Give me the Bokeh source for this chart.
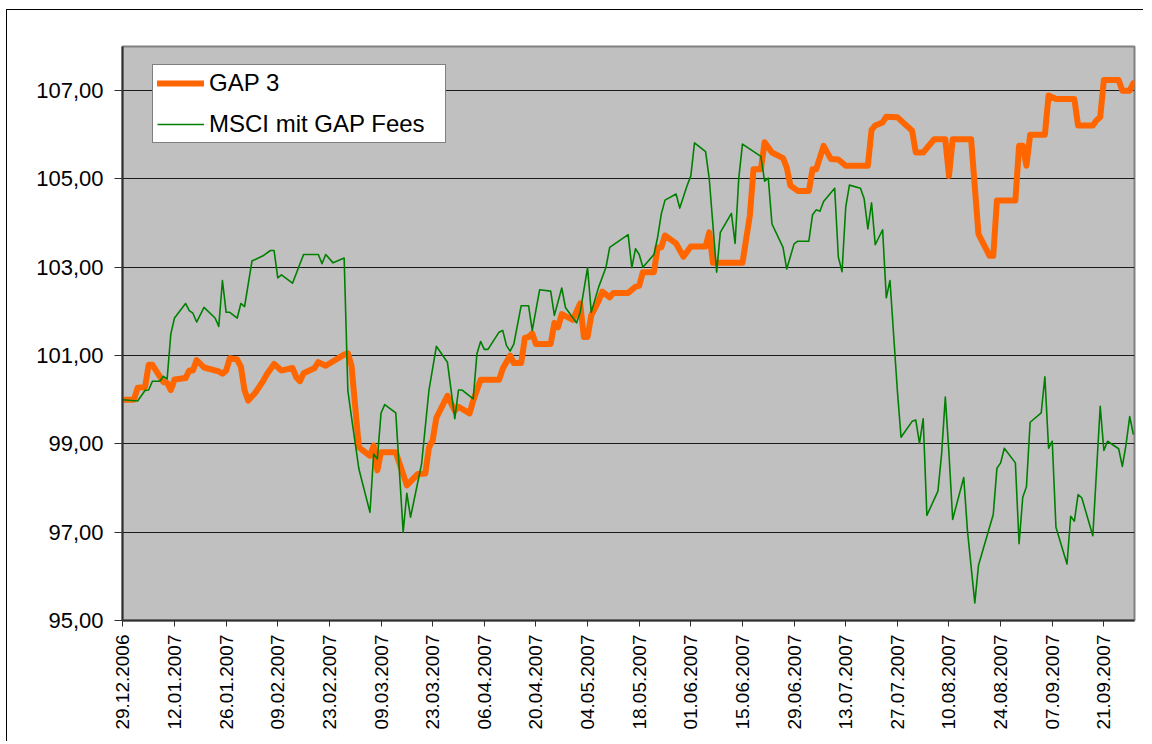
import pandas as pd
from bokeh.plotting import figure
from bokeh.models import (FixedTicker, DatetimeTickFormatter, Range1d, Legend,
                          LegendItem, ColumnDataSource)
from bokeh.embed import file_html
from bokeh.resources import INLINE

# ---------------- data ----------------
gap_dates = [
    "29.12.2006", "01.01.2007", "02.01.2007", "04.01.2007", "05.01.2007", "06.01.2007",
    "09.01.2007", "10.01.2007", "11.01.2007", "12.01.2007", "15.01.2007", "16.01.2007",
    "17.01.2007", "18.01.2007", "20.01.2007", "24.01.2007", "25.01.2007", "26.01.2007",
    "27.01.2007", "29.01.2007", "30.01.2007", "31.01.2007", "01.02.2007", "03.02.2007",
    "05.02.2007", "06.02.2007", "08.02.2007", "10.02.2007", "13.02.2007", "14.02.2007",
    "15.02.2007", "16.02.2007", "19.02.2007", "20.02.2007", "22.02.2007", "27.02.2007",
    "28.02.2007", "01.03.2007", "03.03.2007", "06.03.2007", "07.03.2007", "08.03.2007",
    "09.03.2007", "13.03.2007", "16.03.2007", "19.03.2007", "21.03.2007", "22.03.2007",
    "23.03.2007", "24.03.2007", "27.03.2007", "29.03.2007", "30.03.2007", "02.04.2007",
    "03.04.2007", "05.04.2007", "10.04.2007", "11.04.2007", "13.04.2007", "14.04.2007",
    "16.04.2007", "17.04.2007", "18.04.2007", "19.04.2007", "20.04.2007", "24.04.2007",
    "25.04.2007", "26.04.2007", "27.04.2007", "30.04.2007", "02.05.2007", "03.05.2007",
    "04.05.2007", "05.05.2007", "07.05.2007", "08.05.2007", "10.05.2007", "11.05.2007",
    "15.05.2007", "17.05.2007", "18.05.2007", "19.05.2007", "22.05.2007", "23.05.2007",
    "24.05.2007", "25.05.2007", "28.05.2007", "30.05.2007", "01.06.2007", "05.06.2007",
    "06.06.2007", "07.06.2007", "15.06.2007", "17.06.2007", "18.06.2007", "20.06.2007",
    "21.06.2007", "23.06.2007", "26.06.2007", "27.06.2007", "28.06.2007", "30.06.2007",
    "03.07.2007", "04.07.2007", "05.07.2007", "07.07.2007", "09.07.2007", "11.07.2007",
    "13.07.2007", "19.07.2007", "20.07.2007", "21.07.2007", "23.07.2007", "24.07.2007",
    "27.07.2007", "28.07.2007", "31.07.2007", "01.08.2007", "03.08.2007", "06.08.2007",
    "09.08.2007", "10.08.2007", "11.08.2007", "16.08.2007", "18.08.2007", "21.08.2007",
    "22.08.2007", "23.08.2007", "28.08.2007", "29.08.2007", "30.08.2007", "31.08.2007",
    "01.09.2007", "05.09.2007", "06.09.2007", "08.09.2007", "13.09.2007", "14.09.2007",
    "18.09.2007", "19.09.2007", "20.09.2007", "21.09.2007", "25.09.2007", "26.09.2007",
    "28.09.2007", "29.09.2007",
]
gap_values = [
    100.00, 100.00, 100.27, 100.28, 100.79, 100.79,
    100.40, 100.38, 100.22, 100.46, 100.49, 100.66,
    100.66, 100.90, 100.73, 100.64, 100.59, 100.66,
    100.94, 100.91, 100.75, 100.21, 99.98, 100.17,
    100.42, 100.57, 100.81, 100.66, 100.72, 100.51,
    100.42, 100.60, 100.72, 100.85, 100.77, 101.02,
    101.05, 100.77, 98.92, 98.73, 98.96, 98.40,
    98.81, 98.81, 98.06, 98.32, 98.33, 98.92,
    99.08, 99.59, 100.09, 99.75, 99.84, 99.69,
    99.98, 100.45, 100.45, 100.70, 101.00, 100.83,
    100.83, 101.40, 101.42, 101.50, 101.26, 101.26,
    101.74, 101.64, 101.94, 101.81, 102.18, 101.42,
    101.42, 101.91, 102.24, 102.45, 102.32, 102.42,
    102.42, 102.56, 102.58, 102.89, 102.89, 103.45,
    103.45, 103.72, 103.54, 103.24, 103.47, 103.47,
    103.79, 103.10, 103.10, 104.17, 105.22, 105.22,
    105.83, 105.60, 105.47, 105.26, 104.85, 104.73,
    104.73, 105.22, 105.22, 105.75, 105.45, 105.44,
    105.30, 105.30, 106.11, 106.21, 106.28, 106.41,
    106.40, 106.32, 106.09, 105.60, 105.60, 105.90,
    105.90, 105.07, 105.90, 105.90, 103.75, 103.26,
    103.26, 104.51, 104.51, 105.75, 105.75, 105.30,
    106.00, 106.00, 106.89, 106.81, 106.81, 106.21,
    106.21, 106.33, 106.40, 107.24, 107.24, 107.00,
    107.00, 107.17,
]

msci_dates = [
    "29.12.2006", "02.01.2007", "04.01.2007", "05.01.2007", "06.01.2007", "08.01.2007",
    "09.01.2007", "10.01.2007", "11.01.2007", "12.01.2007", "15.01.2007", "16.01.2007",
    "17.01.2007", "18.01.2007", "20.01.2007", "23.01.2007", "24.01.2007", "25.01.2007",
    "26.01.2007", "27.01.2007", "29.01.2007", "30.01.2007", "31.01.2007", "02.02.2007",
    "05.02.2007", "07.02.2007", "08.02.2007", "09.02.2007", "10.02.2007", "13.02.2007",
    "16.02.2007", "20.02.2007", "21.02.2007", "22.02.2007", "24.02.2007", "27.02.2007",
    "28.02.2007", "01.03.2007", "03.03.2007", "06.03.2007", "07.03.2007", "08.03.2007",
    "09.03.2007", "10.03.2007", "13.03.2007", "15.03.2007", "16.03.2007", "17.03.2007",
    "20.03.2007", "22.03.2007", "24.03.2007", "27.03.2007", "29.03.2007", "30.03.2007",
    "31.03.2007", "03.04.2007", "04.04.2007", "05.04.2007", "06.04.2007", "07.04.2007",
    "10.04.2007", "11.04.2007", "12.04.2007", "13.04.2007", "14.04.2007", "16.04.2007",
    "18.04.2007", "19.04.2007", "21.04.2007", "24.04.2007", "25.04.2007", "27.04.2007",
    "28.04.2007", "01.05.2007", "02.05.2007", "04.05.2007", "05.05.2007", "07.05.2007",
    "09.05.2007", "10.05.2007", "15.05.2007", "16.05.2007", "17.05.2007", "18.05.2007",
    "19.05.2007", "22.05.2007", "23.05.2007", "24.05.2007", "25.05.2007", "28.05.2007",
    "29.05.2007", "31.05.2007", "01.06.2007", "02.06.2007", "05.06.2007", "06.06.2007",
    "08.06.2007", "09.06.2007", "12.06.2007", "13.06.2007", "14.06.2007", "15.06.2007",
    "20.06.2007", "21.06.2007", "22.06.2007", "23.06.2007", "26.06.2007", "27.06.2007",
    "29.06.2007", "30.06.2007", "03.07.2007", "04.07.2007", "05.07.2007", "06.07.2007",
    "07.07.2007", "10.07.2007", "11.07.2007", "12.07.2007", "13.07.2007", "14.07.2007",
    "17.07.2007", "18.07.2007", "19.07.2007", "20.07.2007", "21.07.2007", "23.07.2007",
    "24.07.2007", "25.07.2007", "27.07.2007", "28.07.2007", "31.07.2007", "01.08.2007",
    "02.08.2007", "03.08.2007", "04.08.2007", "07.08.2007", "08.08.2007", "09.08.2007",
    "10.08.2007", "11.08.2007", "14.08.2007", "15.08.2007", "17.08.2007", "18.08.2007",
    "22.08.2007", "23.08.2007", "24.08.2007", "25.08.2007", "28.08.2007", "29.08.2007",
    "30.08.2007", "31.08.2007", "01.09.2007", "04.09.2007", "05.09.2007", "06.09.2007",
    "07.09.2007", "08.09.2007", "11.09.2007", "12.09.2007", "13.09.2007", "14.09.2007",
    "15.09.2007", "18.09.2007", "20.09.2007", "21.09.2007", "22.09.2007", "25.09.2007",
    "26.09.2007", "27.09.2007", "28.09.2007", "29.09.2007",
]
msci_values = [
    100.00, 99.97, 100.21, 100.22, 100.42, 100.42,
    100.53, 100.47, 101.49, 101.85, 102.18, 102.02,
    101.96, 101.76, 102.09, 101.85, 101.66, 102.70,
    101.98, 101.98, 101.85, 102.18, 102.11, 103.14,
    103.26, 103.38, 103.38, 102.76, 102.83, 102.64,
    103.29, 103.29, 103.08, 103.29, 103.10, 103.21,
    100.21, 99.60, 98.43, 97.45, 98.77, 98.66,
    99.70, 99.89, 99.70, 97.00, 97.88, 97.34,
    98.55, 100.22, 101.21, 100.85, 99.57, 100.22,
    100.22, 100.02, 101.04, 101.32, 101.14, 101.14,
    101.53, 101.57, 101.23, 101.10, 101.26, 102.13,
    102.13, 101.57, 102.49, 102.46, 101.91, 102.53,
    102.09, 101.74, 101.98, 102.99, 101.98, 102.55,
    103.00, 103.45, 103.74, 102.99, 103.42, 103.29,
    103.00, 103.29, 103.68, 104.21, 104.52, 104.66,
    104.34, 104.85, 105.07, 105.82, 105.62, 105.00,
    102.89, 103.79, 104.22, 103.54, 105.02, 105.79,
    105.51, 104.95, 105.02, 103.98, 103.45, 102.96,
    103.53, 103.59, 103.59, 104.19, 104.30, 104.27,
    104.49, 104.79, 103.23, 102.90, 104.36, 104.86,
    104.79, 104.55, 103.87, 104.46, 103.51, 103.85,
    102.31, 102.70, 100.21, 99.15, 99.51, 99.54,
    99.01, 99.57, 97.38, 97.93, 98.77, 100.06,
    98.77, 97.29, 98.24, 97.04, 95.40, 96.25,
    97.40, 98.45, 98.57, 98.90, 98.57, 96.74,
    97.79, 98.03, 99.49, 99.70, 100.52, 98.90,
    99.06, 97.11, 96.28, 97.36, 97.25, 97.85,
    97.78, 96.92, 99.85, 98.85, 99.06, 98.89,
    98.49, 98.98, 99.62, 99.21,
]

x_tick_labels = [
    "29.12.2006", "12.01.2007", "26.01.2007", "09.02.2007", "23.02.2007",
    "09.03.2007", "23.03.2007", "06.04.2007", "20.04.2007", "04.05.2007",
    "18.05.2007", "01.06.2007", "15.06.2007", "29.06.2007", "13.07.2007",
    "27.07.2007", "10.08.2007", "24.08.2007", "07.09.2007", "21.09.2007",
]
y_ticks = [95, 97, 99, 101, 103, 105, 107]
y_tick_labels = ["95,00", "97,00", "99,00", "101,00", "103,00", "105,00", "107,00"]

series_names = ["GAP 3", "MSCI mit GAP Fees"]

# ---------------- helpers ----------------
FMT = "%d.%m.%Y"
DAY_MS = 86400000.0


def to_ms(ts):
    return (ts - pd.Timestamp("1970-01-01")) / pd.Timedelta(milliseconds=1)


gap_src = ColumnDataSource(dict(x=pd.to_datetime(gap_dates, format=FMT), y=gap_values))
msci_src = ColumnDataSource(dict(x=pd.to_datetime(msci_dates, format=FMT), y=msci_values))

tick_ts = pd.to_datetime(x_tick_labels, format=FMT)
tick_ms = [to_ms(t) for t in tick_ts]
x_start = tick_ms[0] - 0.1 * DAY_MS
x_end = tick_ms[0] + 274.3 * DAY_MS

FONT = "Liberation Sans"

p = figure(
    width=1137, height=732,
    x_axis_type="datetime",
    x_range=Range1d(x_start, x_end),
    y_range=Range1d(95, 108),
    output_backend="svg",
    toolbar_location=None,
    min_border_left=115, min_border_right=10,
    min_border_top=36, min_border_bottom=122,
    background_fill_color="#C0C0C0",
    border_fill_color="white",
)
p.styles = {"border-top": "1px solid black", "border-left": "1px solid black",
            "margin-left": "6px", "margin-top": "9px"}
p.outline_line_color = "#808080"
p.outline_line_width = 2

# grid
p.xgrid.visible = False
p.ygrid.ticker = FixedTicker(ticks=y_ticks)
p.ygrid.grid_line_color = "#1a1a1a"
p.ygrid.grid_line_width = 1

# axes
p.yaxis.ticker = FixedTicker(ticks=y_ticks)
p.yaxis.major_label_overrides = {v: s for v, s in zip(y_ticks, y_tick_labels)}
p.xaxis.ticker = FixedTicker(ticks=tick_ms)
fmt = DatetimeTickFormatter(days=FMT, months=FMT, years=FMT, hours=FMT,
                            minutes=FMT, seconds=FMT, milliseconds=FMT,
                            microseconds=FMT, minsec=FMT, hourmin=FMT)
p.xaxis.formatter = fmt
p.xaxis.major_label_orientation = 1.5707963267948966

for ax in (p.xaxis[0], p.yaxis[0]):
    ax.axis_line_color = "#303030"
    ax.axis_line_width = 2
    ax.major_tick_line_color = "#303030"
    ax.major_tick_line_width = 1
    ax.major_tick_in = 0
    ax.minor_tick_in = 0
    ax.minor_tick_out = 0
    ax.major_label_text_font = FONT
    ax.major_label_text_color = "black"

p.yaxis.major_tick_out = 8
p.yaxis.major_label_standoff = 11
p.yaxis.major_label_text_font_size = "22px"
p.xaxis.major_tick_out = 6
p.xaxis.major_label_standoff = 8
p.xaxis.major_label_text_font_size = "19px"

# lines
r_gap = p.line("x", "y", source=gap_src, line_color="#FF6600", line_width=6,
               line_join="round", line_cap="round")
r_msci = p.line("x", "y", source=msci_src, line_color="#008000", line_width=1.6,
                line_join="round")

legend = Legend(
    items=[LegendItem(label=series_names[0], renderers=[r_gap]),
           LegendItem(label=series_names[1], renderers=[r_msci])],
    location=(30, 477),
    label_text_font=FONT,
    label_text_font_size="24px",
    label_text_color="black",
    glyph_width=47, glyph_height=24, label_height=24, label_width=232,
    spacing=13, padding=4, margin=0, label_standoff=5,
    border_line_color="black", border_line_width=1,
    background_fill_color="white", background_fill_alpha=1.0,
)
p.add_layout(legend)

open("out.html", "w").write(file_html(p, INLINE))
